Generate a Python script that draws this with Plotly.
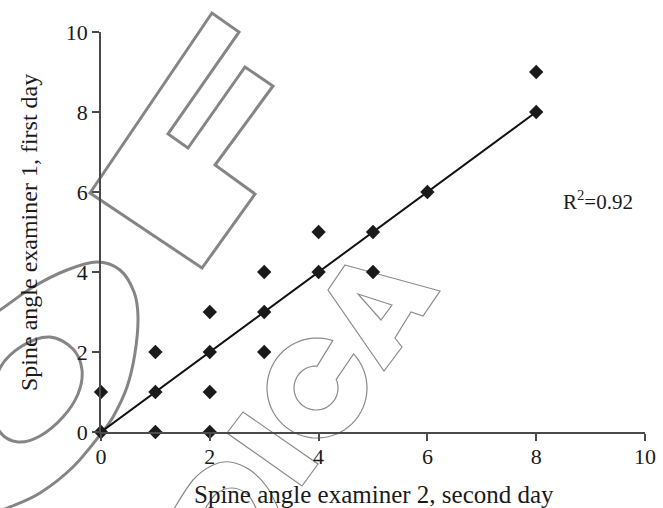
import plotly.graph_objects as go
import math

# ---- data ----
x_vals = [0, 0, 1, 1, 1, 2, 2, 2, 2, 3, 3, 3, 4, 4, 5, 5, 6, 8, 8]
y_vals = [0, 1, 0, 1, 2, 0, 1, 2, 3, 2, 3, 4, 4, 5, 4, 5, 6, 8, 9]
fit_x = [0, 8]
fit_y = [0, 8]
tick_vals = [0, 2, 4, 6, 8, 10]
x_title = "Spine angle examiner 2, second day"
y_title = "Spine angle examiner 1, first day"
r2_text = "R<sup>2</sup>=0.92"

W, H = 663, 508
ML, MR, MT, MB = 101, 18, 32, 76
PW, PH = W - ML - MR, H - MT - MB


def px(x, y):
    return ((x - ML) / PW, (H - MB - y) / PH)


def poly_path(pts, close=True):
    s = ""
    for i, (x, y) in enumerate(pts):
        a, b = px(x, y)
        s += ("M" if i == 0 else "L") + f"{a:.4f},{b:.4f} "
    return s + ("Z" if close else "")


def smooth_path(pts, close=False):
    n = len(pts)
    P = [px(x, y) for x, y in pts]
    s = f"M{P[0][0]:.4f},{P[0][1]:.4f} "
    rng = range(n) if close else range(n - 1)
    for i in rng:
        p0 = P[(i - 1) % n] if (close or i > 0) else P[i]
        p1 = P[i]
        p2 = P[(i + 1) % n]
        p3 = P[(i + 2) % n] if (close or i + 2 < n) else P[(i + 1) % n]
        c1 = (p1[0] + (p2[0] - p0[0]) / 6, p1[1] + (p2[1] - p0[1]) / 6)
        c2 = (p2[0] - (p3[0] - p1[0]) / 6, p2[1] - (p3[1] - p1[1]) / 6)
        s += f"C{c1[0]:.4f},{c1[1]:.4f} {c2[0]:.4f},{c2[1]:.4f} {p2[0]:.4f},{p2[1]:.4f} "
    return s + ("Z" if close else "")


def arc_pts(cx, cy, r, a0, a1, n=40):
    return [(cx + r * math.cos(math.radians(a0 + (a1 - a0) * k / n)),
             cy + r * math.sin(math.radians(a0 + (a1 - a0) * k / n))) for k in range(n + 1)]


thick = dict(color="#858585", width=3)
thin = dict(color="#8a8a8a", width=1.2)
shapes = []
# F letter
F_pts = [(90, 193), (212, 13), (239, 32), (168, 134), (188, 148), (245, 67),
         (273, 86), (215, 165), (255, 194), (202, 268)]
shapes.append(dict(type="path", path=poly_path(F_pts), line=thick))
# big ellipse arc
big = [(-25, 325), (0, 310), (33, 287), (67, 270), (97, 262), (120, 270), (134, 292),
       (138, 317), (135, 353), (127, 387), (113, 417), (100, 435), (73, 467),
       (40, 493), (10, 507), (-15, 516)]
shapes.append(dict(type="path", path=smooth_path(big), line=thick))
# small ellipse
small = [(0, 368), (22, 346), (50, 337), (73, 349), (82, 370), (78, 394), (63, 417),
         (40, 436), (18, 442), (0, 432), (-9, 405)]
shapes.append(dict(type="path", path=smooth_path(small, close=True), line=thick))
# I rectangle
I_pts = [(227, 433), (243, 412), (318, 464), (302, 486)]
shapes.append(dict(type="path", path=poly_path(I_pts), line=thin))
# C letter
outer = arc_pts(317, 388, 50, -71.6, -403, 60)
inner = arc_pts(316, 388, 22, -383, -87, 40)
shapes.append(dict(type="path", path=poly_path(outer + inner), line=thin))
# A letter
A_pts = [(345, 265), (440, 291), (423, 316), (411, 312), (395, 338), (402, 347),
         (384, 371), (328, 290)]
shapes.append(dict(type="path", path=poly_path(A_pts), line=thin))
A_in = [(358, 294), (392, 305), (381, 320)]
shapes.append(dict(type="path", path=poly_path(A_in), line=thin))
# partial letter at bottom
bot = [(172, 512), (193, 480), (213, 465), (230, 462), (250, 470), (267, 487), (280, 512)]
shapes.append(dict(type="path", path=smooth_path(bot), line=thin))
bot2 = [(203, 512), (216, 494), (232, 488), (248, 495), (258, 512)]
shapes.append(dict(type="path", path=smooth_path(bot2), line=thin))
for s in shapes:
    s.update(xref="paper", yref="paper", layer="below")

fig = go.Figure()
fig.add_trace(go.Scatter(x=fit_x, y=fit_y, mode="lines",
                         line=dict(color="#111111", width=2), cliponaxis=False,
                         showlegend=False))
fig.add_trace(go.Scatter(x=x_vals, y=y_vals, mode="markers",
                         marker=dict(symbol="diamond", size=11, color="#1a1a1a"),
                         cliponaxis=False, showlegend=False))

axis_common = dict(range=[0, 10], tickvals=tick_vals, showline=True, linecolor="#4a4a4a",
                   linewidth=1.5, ticks="outside", ticklen=7, tickwidth=1.5,
                   tickcolor="#4a4a4a", showgrid=False, zeroline=False, automargin=False,
                   tickfont=dict(family="Liberation Serif", size=22, color="#1a1a1a"))
fig.update_xaxes(**axis_common)
fig.update_yaxes(**axis_common)
try:
    fig.update_xaxes(ticklabelstandoff=-3)
except Exception:
    pass

fx, fy = px(374, 494)
gx, gy = px(29, 233)
rx, ry = px(598, 200)
fig.update_layout(
    template="none",
    width=W, height=H, autosize=False,
    margin=dict(l=ML, r=MR, t=MT, b=MB, pad=0, autoexpand=False),
    paper_bgcolor="white", plot_bgcolor="rgba(0,0,0,0)",
    shapes=shapes,
    annotations=[
        dict(x=fx, y=fy, xref="paper", yref="paper", text=x_title, showarrow=False,
             xanchor="center", yanchor="middle",
             font=dict(family="Liberation Serif", size=25, color="#1a1a1a")),
        dict(x=gx, y=gy, xref="paper", yref="paper", text=y_title, showarrow=False,
             textangle=-90, xanchor="center", yanchor="middle",
             font=dict(family="Liberation Serif", size=24, color="#1a1a1a")),
        dict(x=rx, y=ry, xref="paper", yref="paper", text=r2_text, showarrow=False,
             xanchor="center", yanchor="middle",
             font=dict(family="Liberation Serif", size=21, color="#1a1a1a")),
    ],
)
fig.write_html("out.html")
